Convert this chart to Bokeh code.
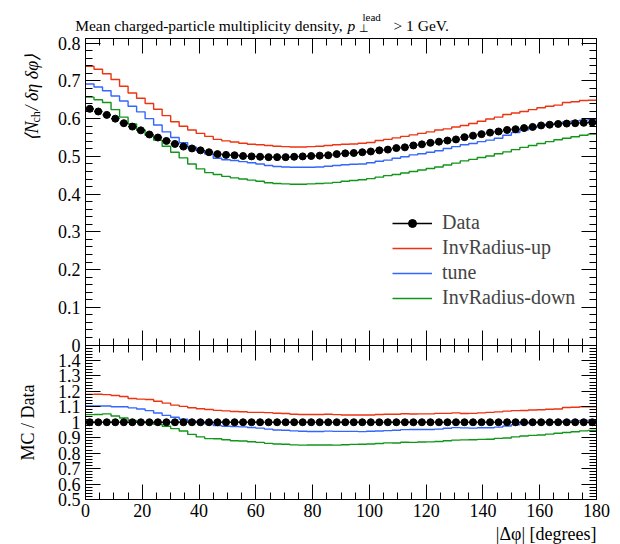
import numpy as np
from bokeh.plotting import figure
from bokeh.models import (Range1d, LinearAxis, FixedTicker, SingleIntervalTicker,
                          CustomJSTickFormatter, Label, Legend, LegendItem)
from bokeh.embed import file_html
from bokeh.resources import INLINE

# ---------------- data ----------------
BIN_WIDTH = 3.0
bin_lo = np.arange(0.0, 180.0, BIN_WIDTH)          # 60 bins in |dphi| [deg]

data = [0.626, 0.619, 0.610, 0.600, 0.588, 0.579, 0.569, 0.558, 0.550, 0.541,
        0.533, 0.526, 0.521, 0.516, 0.511, 0.506, 0.504, 0.503, 0.501, 0.500,
        0.499, 0.498, 0.498, 0.498, 0.499, 0.500, 0.501, 0.502, 0.503, 0.506,
        0.508, 0.509, 0.511, 0.513, 0.516, 0.518, 0.522, 0.524, 0.529, 0.532,
        0.536, 0.539, 0.542, 0.545, 0.551, 0.555, 0.559, 0.563, 0.566, 0.570,
        0.572, 0.575, 0.578, 0.582, 0.584, 0.586, 0.587, 0.588, 0.589, 0.590]
data_err = [0.004, 0.004, 0.004, 0.004, 0.004, 0.004, 0.004, 0.004, 0.004, 0.004,
            0.003, 0.003, 0.003, 0.003, 0.003, 0.003, 0.003, 0.003, 0.003, 0.003,
            0.003, 0.003, 0.003, 0.003, 0.003, 0.003, 0.003, 0.003, 0.003, 0.003,
            0.003, 0.003, 0.003, 0.003, 0.003, 0.003, 0.003, 0.003, 0.003, 0.003,
            0.003, 0.003, 0.003, 0.003, 0.003, 0.003, 0.003, 0.003, 0.003, 0.003,
            0.003, 0.003, 0.003, 0.003, 0.004, 0.004, 0.004, 0.004, 0.004, 0.004]
inv_radius_up = [0.739, 0.731, 0.719, 0.704, 0.686, 0.668, 0.654, 0.640, 0.625, 0.608,
                 0.592, 0.580, 0.570, 0.561, 0.553, 0.545, 0.541, 0.538, 0.535, 0.532,
                 0.531, 0.529, 0.527, 0.526, 0.525, 0.525, 0.526, 0.527, 0.529, 0.531,
                 0.532, 0.533, 0.535, 0.537, 0.542, 0.545, 0.549, 0.553, 0.557, 0.561,
                 0.565, 0.570, 0.573, 0.578, 0.582, 0.587, 0.593, 0.599, 0.604, 0.611,
                 0.615, 0.619, 0.624, 0.629, 0.633, 0.636, 0.643, 0.645, 0.648, 0.649]
tune = [0.692, 0.684, 0.674, 0.660, 0.647, 0.633, 0.618, 0.600, 0.583, 0.565,
        0.550, 0.536, 0.525, 0.515, 0.506, 0.495, 0.491, 0.489, 0.486, 0.483,
        0.480, 0.476, 0.473, 0.472, 0.471, 0.471, 0.471, 0.472, 0.474, 0.476,
        0.478, 0.479, 0.480, 0.483, 0.487, 0.490, 0.495, 0.499, 0.504, 0.507,
        0.511, 0.515, 0.521, 0.526, 0.531, 0.534, 0.539, 0.543, 0.548, 0.556,
        0.563, 0.570, 0.576, 0.581, 0.585, 0.588, 0.591, 0.594, 0.596, 0.598]
inv_radius_down = [0.657, 0.650, 0.643, 0.624, 0.604, 0.586, 0.570, 0.556, 0.543, 0.527,
                   0.511, 0.496, 0.480, 0.467, 0.457, 0.452, 0.447, 0.443, 0.440, 0.437,
                   0.434, 0.430, 0.428, 0.427, 0.426, 0.426, 0.427, 0.428, 0.429, 0.431,
                   0.434, 0.436, 0.438, 0.441, 0.445, 0.449, 0.452, 0.456, 0.460, 0.464,
                   0.468, 0.472, 0.477, 0.482, 0.488, 0.492, 0.497, 0.501, 0.507, 0.512,
                   0.518, 0.524, 0.529, 0.534, 0.539, 0.544, 0.548, 0.552, 0.556, 0.559]

series_names = ["InvRadius-up", "tune", "InvRadius-down"]
series_colors = ["#EE3311", "#3366FF", "#109618"]
series_values = [inv_radius_up, tune, inv_radius_down]

main_ticks = [0.0, 0.1, 0.2, 0.3, 0.4, 0.5, 0.6, 0.7, 0.8]
ratio_ticks = [0.5, 0.6, 0.7, 0.8, 0.9, 1.0, 1.1, 1.2, 1.3, 1.4]

# ---------------- layout constants (canvas pixels) ----------------
FONT = "'Liberation Serif', serif"
W, H = 618, 544
LEFT_PX, RIGHT_PX = 85, 596
TOP_PX, MID_PX, BOT_PX = 38, 344.5, 499
MAIN_TOP = 0.8125
X_MIN, X_MAX = 0.0, 180.0
R_MIN, R_MAX = 0.5, 1.5


def px_x(px):
    return X_MIN + (px - LEFT_PX) * (X_MAX - X_MIN) / (RIGHT_PX - LEFT_PX)


def py_main(py):
    return (MID_PX - py) * MAIN_TOP / (MID_PX - TOP_PX)


def py_ratio(py):
    return R_MIN + (BOT_PX - py) * (R_MAX - R_MIN) / (BOT_PX - MID_PX)


# the frame covers the whole canvas; the two panels live inside it
p = figure(width=W, height=H, min_border=0,
           x_range=Range1d(px_x(0), px_x(W)),
           y_range=Range1d(py_main(H), py_main(0)),
           x_axis_type=None, y_axis_type=None,
           output_backend="svg", toolbar_location=None)
p.extra_y_ranges = {"ratio": Range1d(py_ratio(H), py_ratio(0))}
p.outline_line_color = None
p.background_fill_color = "white"
p.border_fill_color = "white"

edges = np.append(bin_lo, X_MAX)
centers = bin_lo + BIN_WIDTH / 2
d = np.array(data)
de = np.array(data_err)

legend_items = []
for name, col, vals in zip(series_names, series_colors, series_values):
    v = np.array(vals)
    r = p.step(edges, np.append(v, v[-1]), mode="after", line_color=col, line_width=1.4)
    rv = v / d
    p.step(edges, np.append(rv, rv[-1]), mode="after", line_color=col, line_width=1.4,
           y_range_name="ratio")
    legend_items.append(LegendItem(label=name, renderers=[r]))

# data, main panel
seg = p.segment(bin_lo, d, bin_lo + BIN_WIDTH, d, line_color="black", line_width=1.3)
p.segment(centers, d - de, centers, d + de, line_color="black", line_width=1.3)
dots = p.scatter(centers, d, size=7, fill_color="black", line_color="black")
legend_items.insert(0, LegendItem(label="Data", renderers=[seg, dots]))

# data, ratio panel
one = d / d
re = de / d
p.segment(bin_lo, one, bin_lo + BIN_WIDTH, one, line_color="black", line_width=1.3,
          y_range_name="ratio")
p.segment(centers, one - re, centers, one + re, line_color="black", line_width=1.3,
          y_range_name="ratio")
p.scatter(centers, one, size=7, fill_color="black", line_color="black", y_range_name="ratio")

# ---------------- axes (all drawn at fixed locations inside the frame) ----------------
hidden = CustomJSTickFormatter(code="return '';")


def axis(**kw):
    base = dict(axis_line_color="black", axis_line_width=1, major_tick_line_color="black",
                minor_tick_line_color="black", major_tick_in=15, major_tick_out=0,
                minor_tick_in=7, minor_tick_out=0, major_label_text_font=FONT,
                major_label_text_font_size="18px", major_label_standoff=5,
                major_label_text_color="black")
    base.update(kw)
    return LinearAxis(**base)


def xticker():
    return SingleIntervalTicker(interval=20, num_minor_ticks=4)


main_minor = [round(i * 0.02, 2) for i in range(41)]
ratio_minor = [round(0.5 + i * 0.02, 2) for i in range(51)]
xb = (X_MIN, X_MAX)

p.add_layout(axis(ticker=xticker(), fixed_location=R_MIN, y_range_name="ratio", bounds=xb,
                  major_label_standoff=4), "below")
p.add_layout(axis(ticker=xticker(), formatter=hidden, fixed_location=MAIN_TOP, bounds=xb),
             "above")
p.add_layout(axis(ticker=xticker(), formatter=hidden, fixed_location=0, bounds=xb), "below")
p.add_layout(axis(ticker=xticker(), formatter=hidden, fixed_location=R_MAX,
                  y_range_name="ratio", bounds=xb), "above")

p.add_layout(axis(ticker=FixedTicker(ticks=main_ticks, minor_ticks=main_minor),
                  formatter=CustomJSTickFormatter(code="return tick < 1e-9 ? '0' : tick.toFixed(1);"),
                  fixed_location=X_MIN, bounds=(0, MAIN_TOP)), "left")
p.add_layout(axis(ticker=FixedTicker(ticks=ratio_ticks, minor_ticks=ratio_minor),
                  formatter=CustomJSTickFormatter(code="return Math.abs(tick - 1) < 1e-9 ? '1' : tick.toFixed(1);"),
                  fixed_location=X_MIN, bounds=(R_MIN, R_MAX), y_range_name="ratio"), "left")
p.add_layout(axis(ticker=FixedTicker(ticks=main_ticks, minor_ticks=main_minor),
                  formatter=hidden, fixed_location=X_MAX, bounds=(0, MAIN_TOP)), "right")
p.add_layout(axis(ticker=FixedTicker(ticks=ratio_ticks, minor_ticks=ratio_minor),
                  formatter=hidden, fixed_location=X_MAX, bounds=(R_MIN, R_MAX),
                  y_range_name="ratio"), "right")

# ---------------- legend ----------------
legend = Legend(items=legend_items, location=(392, H - 309),
                glyph_width=40, glyph_height=20, label_height=20, spacing=2, padding=0,
                margin=0, label_standoff=10, border_line_color=None,
                background_fill_alpha=0, label_text_font=FONT, label_text_font_size="20px")
p.add_layout(legend)


# ---------------- texts ----------------
def lab(text, px, py, size, style="normal", align="left", baseline="alphabetic",
        angle=0.0, ratio=False):
    kw = dict(x=px_x(px), text=text, text_font=FONT, text_font_size=size,
              text_font_style=style, text_align=align, text_baseline=baseline,
              angle=angle, text_color="black")
    if ratio:
        kw.update(y=py_ratio(py), y_range_name="ratio")
    else:
        kw.update(y=py_main(py))
    p.add_layout(Label(**kw))


# title
lab("Mean charged-particle multiplicity density,", 342, 25, "15.5px", align="right")
lab("p", 347, 25, "15.5px", style="italic")
lab("lead", 362, 16, "11px")
lab("\u22a5", 358, 27, "11px")
lab("> 1 GeV.", 393, 25, "15.5px")

# main y label (rotated pieces)
lab("\u27e8N", 31, 140, "18px", style="italic", angle=np.pi / 2)
lab("ch", 35, 122, "12px", angle=np.pi / 2)
lab(" / \u03b4\u03b7 \u03b4\u03c6\u27e9", 31, 110, "18px", style="italic", angle=np.pi / 2)

# ratio y label and x label
lab("MC / Data", 27, 422, "18px", align="center", baseline="middle", angle=np.pi / 2,
    ratio=True)
lab("|\u0394\u03c6| [degrees]", 596, 533, "18px", align="right", baseline="middle",
    ratio=True)

open("out.html", "w").write(file_html(p, INLINE))
